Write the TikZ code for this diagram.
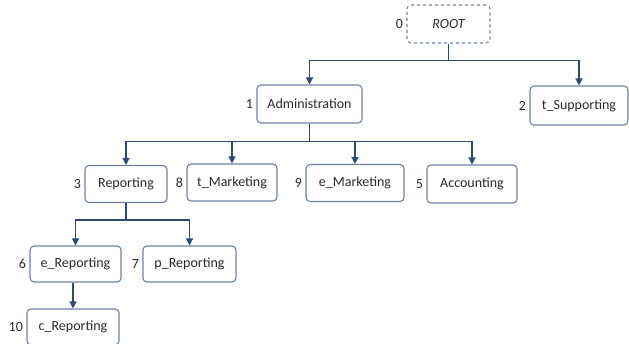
\documentclass[tikz,border=0pt]{standalone}
\usepackage{fontspec}
\setmainfont{Carlito}
\usepackage{tikz}
\usetikzlibrary{arrows.meta}
\definecolor{boxline}{HTML}{6F819E}
\definecolor{linkline}{HTML}{2F4A72}
\definecolor{txtgray}{HTML}{2A2A2A}

\begin{document}
\begin{tikzpicture}[x=1pt,y=-1pt,
    box/.style={draw=boxline, line width=1.1pt, rounded corners=4pt, text=txtgray,
                font=\fontsize{14}{16}\selectfont, minimum height=37pt},
    num/.style={text=txtgray, font=\fontsize{14}{16}\selectfont},
    link/.style={draw=linkline, line width=1.3pt, -{Triangle[length=7pt,width=7pt]}}]

    \useasboundingbox (0,0) rectangle (629,343);

    % Define boxes
    \node[box, dashed, minimum width=83pt, minimum height=38pt, label={[num]left:0}] (root) at (448.5,24) {\itshape ROOT};
    \node[box, minimum width=105pt, minimum height=38pt, label={[num]left:1}] (admin) at (309.5,104) {Administration};
    \node[box, minimum width=98pt, minimum height=39pt, label={[num]left:2}] (tsup) at (579,105.5) {t\_Supporting};

    \node[box, minimum width=82pt, label={[num]left:3}] (report) at (126,184) {Reporting};
    \node[box, minimum width=90pt, label={[num]left:8}] (tmark) at (232,182.5) {t\_Marketing};
    \node[box, minimum width=98pt, label={[num]left:9}] (emark) at (355,183) {e\_Marketing};
    \node[box, minimum width=90pt, minimum height=38pt, label={[num]left:5}] (acct) at (472,184) {Accounting};

    \node[box, minimum width=91pt, minimum height=36pt, label={[num]left:6}] (erep) at (75.5,264) {e\_Reporting};
    \node[box, minimum width=93pt, minimum height=36pt, label={[num]left:7}] (prep) at (189.5,264) {p\_Reporting};
    \node[box, minimum width=92pt, minimum height=36pt, label={[num]left:10}] (crep) at (73,327) {c\_Reporting};

    % Draw the tree links
    \draw[link] (root.south) -- ++(0,17) -| (admin.north);
    \draw[link] (root.south) -- ++(0,17) -| (tsup.north);

    \draw[link] (admin.south) -- ++(0,18) -| (report.north);
    \draw[link] (admin.south) -- ++(0,18) -| (tmark.north);
    \draw[link] (admin.south) -- ++(0,18) -| (emark.north);
    \draw[link] (admin.south) -- ++(0,18) -| (acct.north);

    \draw[link] (report.south) -- ++(0,17) -| (erep.north);
    \draw[link] (report.south) -- ++(0,17) -| (prep.north);

    \draw[link] (crep.north |- erep.south) -- (crep.north);
\end{tikzpicture}
\end{document}
